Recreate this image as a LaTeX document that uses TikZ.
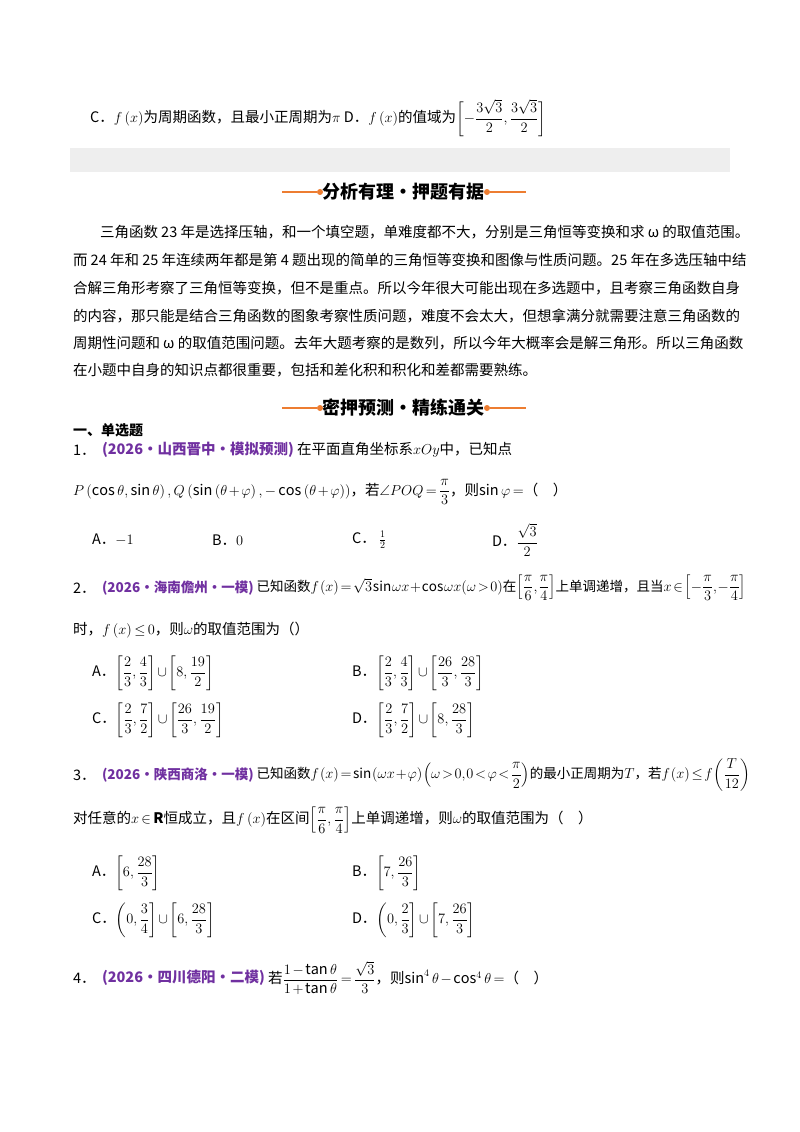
\documentclass[tikz,border=0pt]{standalone}
\usepackage{amsmath,amssymb}
\usepackage{fontspec}
\setmainfont{Noto Sans CJK SC}
\usepackage{tikz}

\definecolor{srcpurple}{RGB}{112,48,160}
\definecolor{barorange}{RGB}{237,125,49}
\definecolor{bandgray}{RGB}{238,238,238}

\newcommand\mathsnug{\medmuskip=2mu\relax\thickmuskip=3mu\relax}
\newcommand\mathtight{\medmuskip=1mu\relax\thickmuskip=2mu\relax\thinmuskip=1mu\relax}

\tikzset{
  txt/.style={anchor=west, inner sep=0pt, outer sep=0pt, font=\fontsize{14.5}{17}\selectfont\mathsnug},
  tight/.style={txt, font=\fontsize{13.5}{16}\selectfont\mathtight},
  src/.style={txt, text=srcpurple, font=\fontsize{14.5}{17}\selectfont\bfseries},
  head/.style={inner sep=0pt, font=\fontsize{18}{20}\selectfont\bfseries},
  bar/.style={draw=barorange, line width=2.2pt},
  dot/.style={circle, fill=barorange, inner sep=0pt, minimum size=6pt}
}

\begin{document}
\begin{tikzpicture}[x=1pt, y=-1pt]
\useasboundingbox (0,0) rectangle (800,1132);

\node[txt] (c1) at (90,118) {C．$f\left(x\right)$为周期函数，且最小正周期为$\pi$\ D．$f\left(x\right)$的值域为$\left[-\dfrac{3\sqrt3}{2},\dfrac{3\sqrt3}{2}\right]$};

\fill[bandgray] (70,148) rectangle (730,172);

% first heading
\node[head] (h1) at (403,192) {分析有理·押题有据};
\node[dot] (h1l) at (320,192) {};
\node[dot] (h1r) at (487,192) {};
\coordinate (h1a) at (282,192);
\coordinate (h1b) at (526,192);
\draw[bar] (h1a) -- (h1l);
\draw[bar] (h1r) -- (h1b);

\node[txt] (p1) at (100,232) {三角函数 23 年是选择压轴，和一个填空题，单难度都不大，分别是三角恒等变换和求 ω 的取值范围。};
\node[txt] (p2) at (73,260) {而 24 年和 25 年连续两年都是第 4 题出现的简单的三角恒等变换和图像与性质问题。25 年在多选压轴中结};
\node[txt] (p3) at (73,288) {合解三角形考察了三角恒等变换，但不是重点。所以今年很大可能出现在多选题中，且考察三角函数自身};
\node[txt] (p4) at (73,316) {的内容，那只能是结合三角函数的图象考察性质问题，难度不会太大，但想拿满分就需要注意三角函数的};
\node[txt] (p5) at (73,343) {周期性问题和 ω 的取值范围问题。去年大题考察的是数列，所以今年大概率会是解三角形。所以三角函数};
\node[txt] (p6) at (73,370) {在小题中自身的知识点都很重要，包括和差化积和积化和差都需要熟练。};

% second heading
\node[head] (h2) at (403,408) {密押预测·精练通关};
\node[dot] (h2l) at (320,408) {};
\node[dot] (h2r) at (487,408) {};
\coordinate (h2a) at (282,408);
\coordinate (h2b) at (526,408);
\draw[bar] (h2a) -- (h2l);
\draw[bar] (h2r) -- (h2b);

\node[txt, font=\fontsize{14}{16}\selectfont\bfseries] (sec) at (73,430) {一、单选题};

% question 1
\node[txt] (q1n) at (73,450) {1．};
\node[src] (q1s) at (102,450) {(2026·山西晋中·模拟预测)};
\node[txt] (q1t) at (q1s.east) {\ 在平面直角坐标系$xOy$中，已知点};
\node[txt] (q1u) at (73,492) {$P\left(\cos\theta,\sin\theta\right),Q\left(\sin\left(\theta+\varphi\right),-\cos\left(\theta+\varphi\right)\right)$，若$\angle POQ=\dfrac{\pi}{3}$，则$\sin\varphi=$（\quad）};
\node[txt] (q1a) at (92,540) {A．$-1$};
\node[txt] (q1b) at (212,540) {B．$0$};
\node[txt] (q1c) at (352,540) {C．\ $\frac12$};
\node[txt] (q1d) at (492,540) {D．$\dfrac{\sqrt3}{2}$};

% question 2
\node[txt] (q2n) at (73,588) {2．};
\node[src, font=\fontsize{13.5}{16}\selectfont\bfseries] (q2s) at (102,588) {(2026·海南儋州·一模)};
\node[tight] (q2t) at (q2s.east) {\ 已知函数$f\left(x\right)=\sqrt3\sin\omega x+\cos\omega x(\omega>0)$在$\left[\dfrac{\pi}{6},\dfrac{\pi}{4}\right]$上单调递增，且当$x\in\left[-\dfrac{\pi}{3},-\dfrac{\pi}{4}\right]$};
\node[txt] (q2u) at (73,630) {时，$f\left(x\right)\le0$，则$\omega$的取值范围为（）};
\node[txt] (q2a) at (92,673) {A．$\left[\dfrac23,\dfrac43\right]\cup\left[8,\dfrac{19}{2}\right]$};
\node[txt] (q2b) at (352,673) {B．$\left[\dfrac23,\dfrac43\right]\cup\left[\dfrac{26}{3},\dfrac{28}{3}\right]$};
\node[txt] (q2c) at (92,720) {C．$\left[\dfrac23,\dfrac72\right]\cup\left[\dfrac{26}{3},\dfrac{19}{2}\right]$};
\node[txt] (q2d) at (352,720) {D．$\left[\dfrac23,\dfrac72\right]\cup\left[8,\dfrac{28}{3}\right]$};

% question 3
\node[txt] (q3n) at (73,775) {3．};
\node[src, font=\fontsize{13.5}{16}\selectfont\bfseries] (q3s) at (102,775) {(2026·陕西商洛·一模)};
\node[tight] (q3t) at (q3s.east) {\ 已知函数$f\left(x\right)=\sin\left(\omega x+\varphi\right)\left(\omega>0,0<\varphi<\dfrac{\pi}{2}\right)$的最小正周期为$T$，若$f\left(x\right)\le f\left(\dfrac{T}{12}\right)$};
\node[txt] (q3u) at (73,820) {对任意的$x\in\mathbf{R}$恒成立，且$f\left(x\right)$在区间$\left[\dfrac{\pi}{6},\dfrac{\pi}{4}\right]$上单调递增，则$\omega$的取值范围为（\quad）};
\node[txt] (q3a) at (92,873) {A．$\left[6,\dfrac{28}{3}\right]$};
\node[txt] (q3b) at (352,873) {B．$\left[7,\dfrac{26}{3}\right]$};
\node[txt] (q3c) at (92,920) {C．$\left(0,\dfrac34\right]\cup\left[6,\dfrac{28}{3}\right]$};
\node[txt] (q3d) at (352,920) {D．$\left(0,\dfrac23\right]\cup\left[7,\dfrac{26}{3}\right]$};

% question 4
\node[txt] (q4n) at (73,978) {4．};
\node[src] (q4s) at (102,978) {(2026·四川德阳·二模)};
\node[txt] (q4t) at (q4s.east) {\ 若$\dfrac{1-\tan\theta}{1+\tan\theta}=\dfrac{\sqrt3}{3}$，则$\sin^4\theta-\cos^4\theta=$（\quad）};
\end{tikzpicture}
\end{document}
